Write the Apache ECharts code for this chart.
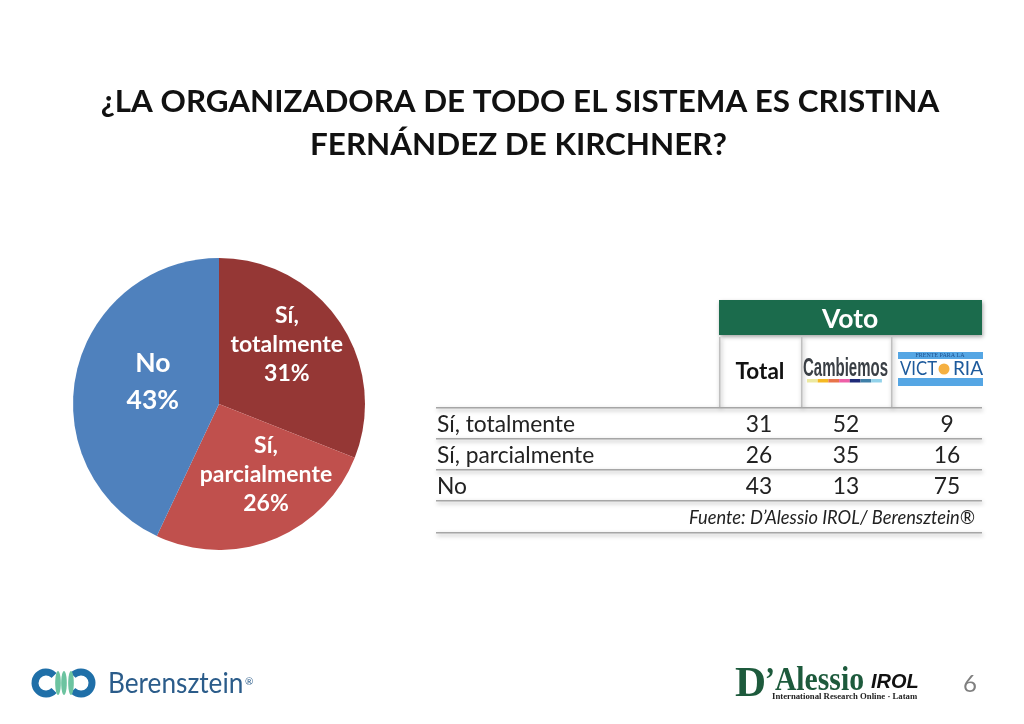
<!DOCTYPE html>
<html>
<head>
<meta charset="utf-8">
<style>
  html, body { margin: 0; padding: 0; background: #fff; }
  #chart { width: 1024px; height: 724px; }
</style>
<script src="https://cdn.jsdelivr.net/npm/echarts@6/dist/echarts.min.js"></script>
</head>
<body>
<div id="chart"></div>
<script>
var titleLines = ["¿LA ORGANIZADORA DE TODO EL SISTEMA ES CRISTINA", "FERNÁNDEZ DE KIRCHNER?"];
var categories = ["Sí, totalmente", "Sí, parcialmente", "No"];
var pieValues = [31, 26, 43];
var pieLabels = ["Sí,\ntotalmente", "Sí,\nparcialmente", "No"];
var pieColors = ["#953735", "#c0504d", "#4f81bd"];
var totalValues = [31, 26, 43];
var cambiemosValues = [52, 35, 13];
var victoriaValues = [9, 16, 75];
var source = "Fuente: D’Alessio IROL/ Berensztein®";

var font = "Lato, 'Open Sans', sans-serif";
var myChart = echarts.init(document.getElementById("chart"), null, { renderer: "canvas" });
var g = [];

function text(x, y, str, size, opt) {
  opt = opt || {};
  var el = {
    type: "text",
    x: x,
    y: y,
    style: {
      text: str,
      fill: opt.color || "#1a1a1a",
      font: (opt.italic ? "italic " : "") + (opt.bold ? "bold " : "") + size + "px " + (opt.family || font),
      align: opt.align || "left",
      verticalAlign: "middle"
    }
  };
  if (opt.scaleX) el.scaleX = opt.scaleX;
  g.push(el);
}
function rect(x, y, w, h, color, shadow) {
  var el = { type: "rect", shape: { x: x, y: y, width: w, height: h }, style: { fill: color } };
  if (shadow) {
    el.style.shadowBlur = 4;
    el.style.shadowColor = "rgba(0,0,0,.35)";
    el.style.shadowOffsetX = 1;
    el.style.shadowOffsetY = 2;
  }
  g.push(el);
}

// titulo
text(520, 102, titleLines[0], 31.4, { bold: true, align: "center", color: "#111" });
text(518.5, 145, titleLines[1], 31.4, { bold: true, align: "center", color: "#111" });

// tabla: cabecera
rect(719, 300, 263, 35, "#1b6b4c", true);
text(850, 319, "Voto", 26.5, { bold: true, align: "center", color: "#fff" });
[719, 801, 891].forEach(function (x) {
  rect(x, 337, 1.5, 70, "#bfbfbf", true);
});
text(760, 372, "Total", 22.5, { bold: true, align: "center", color: "#111" });

// tabla: lineas
[407, 438, 469, 500, 532].forEach(function (y) {
  rect(436, y, 546, 1.5, "#a6a6a6", true);
});

// tabla: filas
var rowY = [425, 456, 487];
categories.forEach(function (c, i) {
  text(437, rowY[i], c, 22.8, { color: "#222" });
  text(759, rowY[i], String(totalValues[i]), 22.8, { align: "center", color: "#222" });
  text(846, rowY[i], String(cambiemosValues[i]), 22.8, { align: "center", color: "#222" });
  text(947, rowY[i], String(victoriaValues[i]), 22.8, { align: "center", color: "#222" });
});
text(975, 518, source, 18.3, { italic: true, align: "right", color: "#222" });

// logo Cambiemos
text(803, 369, "Cambiemos", 25, { bold: true, color: "#3a3f45", scaleX: 0.6, family: "'Liberation Sans Narrow', 'Liberation Sans', sans-serif" });
["#ece9a0", "#f5b922", "#e8734a", "#ee5fa7", "#1e2a78", "#3f7fa8", "#92d2ea"].forEach(function (c, i) {
  rect(807 + i * 10.7, 379, 10.7, 3.5, c);
});

// logo Frente para la Victoria
rect(898, 352, 85, 7, "#55a6e4");
rect(898, 378, 85, 8, "#55a6e4");
text(940, 355.5, "FRENTE PARA LA", 6, { align: "center", color: "#1d4f8c", family: "'Liberation Serif', serif" });
text(900, 369, "VICT", 19, { color: "#1d5a9c", scaleX: 0.88 });
text(983, 369, "RIA", 19, { align: "right", color: "#1d5a9c" });
g.push({ type: "circle", shape: { cx: 944, cy: 369, r: 5.5 }, style: { fill: "#f5b041" } });

// logo Berensztein
g.push({ type: "arc", shape: { cx: 46, cy: 683, r: 11, startAngle: 0.75, endAngle: -0.75, clockwise: true }, style: { stroke: "#1f6fa8", lineWidth: 7, fill: "none" } });
g.push({ type: "arc", shape: { cx: 81, cy: 683, r: 11, startAngle: 3.9, endAngle: 2.4, clockwise: true }, style: { stroke: "#1f6fa8", lineWidth: 7, fill: "none" } });
[58, 64, 71].forEach(function (x) {
  g.push({ type: "ellipse", shape: { cx: x, cy: 683, rx: 2.8, ry: 12 }, style: { fill: "#6cc3a0" } });
});
text(108, 684, "Berensztein", 28.5, { color: "#2b5c8a", bold: false, scaleX: 0.92 });
text(245, 682, "®", 10, { color: "#2b5c8a" });

// logo D'Alessio
text(735, 685, "D", 43, { bold: true, color: "#1d5a3c", family: "'Liberation Serif', serif" });
text(765, 681, "’Alessio", 33, { bold: true, color: "#1d5a3c", family: "'Liberation Serif', serif", scaleX: 0.9 });
text(871, 682, "IROL", 20, { bold: true, italic: true, color: "#111", family: "'Liberation Sans', sans-serif" });
text(772, 697, "International Research Online · Latam", 8, { bold: true, color: "#222", family: "'Liberation Serif', serif", scaleX: 1.09 });

// numero de pagina
text(970, 684, "6", 24, { align: "center", color: "#7f7f7f" });

var labelOffsets = [[5, -17], [19, 0], [8, -5]];
var pieData = categories.map(function (c, i) {
  return {
    name: c,
    value: pieValues[i],
    itemStyle: { color: pieColors[i] },
    label: {
      formatter: pieLabels[i] + "\n" + pieValues[i] + "%",
      fontSize: i === 2 ? 26.5 : 23,
      lineHeight: i === 2 ? 37 : 29,
      offset: labelOffsets[i]
    }
  };
});

var option = {
  animation: false,
  backgroundColor: "#fff",
  series: [
    {
      type: "pie",
      center: [219, 404],
      radius: [0, 146],
      startAngle: 90,
      clockwise: true,
      silent: true,
      data: pieData,
      label: {
        show: true,
        position: "inside",
        color: "#fff",
        fontWeight: "bold",
        fontFamily: font,
        align: "center"
      },
      labelLine: { show: false }
    }
  ],
  graphic: g
};
myChart.setOption(option);
window.addEventListener("resize", function () {
  myChart.resize();
});
</script>
</body>
</html>
